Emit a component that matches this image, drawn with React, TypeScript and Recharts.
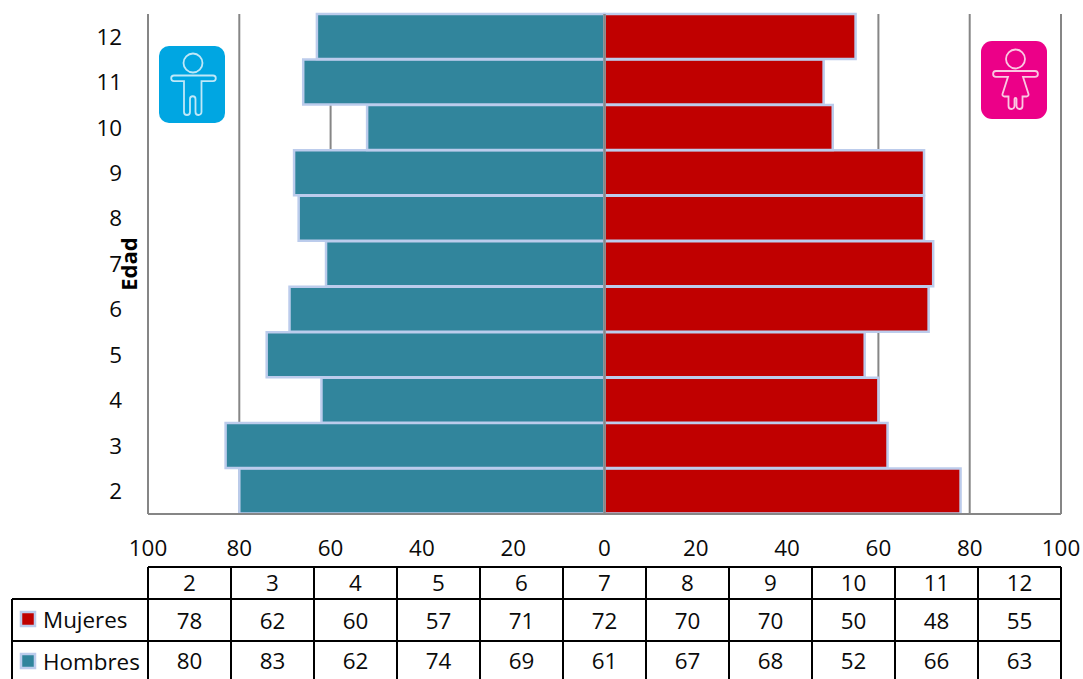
import React from 'react';
import { BarChart, Bar, XAxis, YAxis, CartesianGrid, ReferenceLine } from 'recharts';

// Ages run from 2 to 12; counts per age for each sex.
const edades = [2, 3, 4, 5, 6, 7, 8, 9, 10, 11, 12];
const mujeres = [78, 62, 60, 57, 71, 72, 70, 70, 50, 48, 55];
const hombres = [80, 83, 62, 74, 69, 61, 67, 68, 52, 66, 63];
const escala = [-100, -80, -60, -40, -20, 0, 20, 40, 60, 80, 100];

const filas = edades.map((edad, i) => ({
  edad: String(edad),
  Mujeres: mujeres[i],
  Hombres: -hombres[i],
}));

const FUENTE = '"Open Sans", sans-serif';
const TAM = 22.4;
const TINTA = '#0A0A0A';
const GRIS = '#868686';
const BORDE = '#BCCCEC';
const ROJO = '#C00000';
const AZUL = '#31859C';

const W = 1083;
const H = 679;
const X0 = 148;
const X1 = 1061;
const ANCHO_COL = (X1 - X0) / edades.length;
const Y_FILAS = [567, 599, 641, 690];

// Data table under the pyramid, with a colour key for each series.
function TablaDatos() {
  const centro = (a: number, b: number) => (a + b) / 2;
  const texto = { fontFamily: FUENTE, fontSize: TAM, fill: TINTA };
  return (
    <g>
      {Y_FILAS.map((y, i) => (
        <line key={y} x1={i === 0 ? X0 : 12} x2={X1} y1={y} y2={y} stroke="#000" strokeWidth={2} />
      ))}
      <line x1={12} x2={12} y1={599} y2={690} stroke="#000" strokeWidth={2} />
      {edades.map((_, i) => (
        <line key={i} x1={X0 + i * ANCHO_COL} x2={X0 + i * ANCHO_COL} y1={567} y2={690} stroke="#000" strokeWidth={2} />
      ))}
      <line x1={X1} x2={X1} y1={567} y2={690} stroke="#000" strokeWidth={2} />
      {edades.map((edad, i) => {
        const cx = X0 + (i + 0.5) * ANCHO_COL;
        return (
          <g key={edad} {...texto} textAnchor="middle">
            <text x={cx} y={centro(567, 599) + 8}>{edad}</text>
            <text x={cx} y={centro(599, 641) + 9}>{mujeres[i]}</text>
            <text x={cx} y={centro(641, 679) + 9}>{hombres[i]}</text>
          </g>
        );
      })}
      <rect x={21} y={612} width={14} height={14} fill={ROJO} stroke={BORDE} strokeWidth={2.5} />
      <text x={43} y={628} {...texto}>Mujeres</text>
      <rect x={21} y={654} width={14} height={14} fill={AZUL} stroke={BORDE} strokeWidth={2.5} />
      <text x={43} y={670} {...texto}>Hombres</text>
    </g>
  );
}

// Pictograms for each side of the pyramid.
function Iconos() {
  const trazo = { fill: 'none', stroke: '#BFE8F8', strokeWidth: 1.8 };
  return (
    <g>
      <rect x={159} y={46} width={66} height={77} rx={10} fill="#00A6E2" />
      <circle cx={193} cy={63} r={9.5} {...trazo} />
      <path
        d="M174 75.5 H213 a2.8 2.8 0 0 1 0 5.6 H201.5 V112 a3 3 0 0 1 -6 0 V99 a2.75 2.75 0 0 0 -5.5 0 V112 a3 3 0 0 1 -6 0 V81.1 H174 a2.8 2.8 0 0 1 0 -5.6 Z"
        {...trazo}
      />
      <rect x={981} y={41} width={66} height={78} rx={11} fill="#EC0088" />
      <circle cx={1015.5} cy={59} r={9.5} {...trazo} stroke="#FAC8E2" />
      <path
        d="M996 71 H1035 a2.9 2.9 0 0 1 0 5.8 H1023 L1028.5 94 a2 2 0 0 1 -2 2.5 H1022.5 V106 a3 3 0 0 1 -6 0 V99 a1 1 0 0 0 -2 0 V106 a3 3 0 0 1 -6 0 V96.5 H1004.5 a2 2 0 0 1 -2 -2.5 L1008 76.8 H996 a2.9 2.9 0 0 1 0 -5.8 Z"
        {...trazo}
        stroke="#FAC8E2"
      />
    </g>
  );
}

export default function App() {
  return (
    <div style={{ position: 'fixed', left: 0, top: 0, width: W, height: H, overflow: 'hidden', background: '#fff' }}>
      <BarChart
        width={W}
        height={H}
        data={filas}
        layout="vertical"
        stackOffset="sign"
        barCategoryGap={0}
        margin={{ top: 14, right: W - X1, bottom: 125, left: 88 }}
      >
        <CartesianGrid horizontal={false} stroke={GRIS} strokeWidth={2} />
        <XAxis
          type="number"
          domain={[-100, 100]}
          ticks={escala}
          interval={0}
          height={40}
          tickLine={false}
          tickSize={0}
          tickMargin={26}
          axisLine={{ stroke: GRIS, strokeWidth: 2 }}
          tickFormatter={(v: number) => String(Math.abs(v))}
          tick={{ fontFamily: FUENTE, fontSize: TAM, fill: TINTA }}
        />
        <YAxis
          type="category"
          dataKey="edad"
          reversed
          width={60}
          interval={0}
          tickLine={false}
          tickSize={0}
          tickMargin={26}
          axisLine={false}
          tick={{ fontFamily: FUENTE, fontSize: TAM, fill: TINTA }}
          label={{
            value: 'Edad',
            angle: -90,
            position: 'center',
            dx: 11,
            style: { fontFamily: FUENTE, fontSize: 22, fontWeight: 700, fill: '#000' },
          }}
        />
        <Bar dataKey="Hombres" stackId="piramide" fill={AZUL} stroke={BORDE} strokeWidth={2.5} isAnimationActive={false} />
        <Bar dataKey="Mujeres" stackId="piramide" fill={ROJO} stroke={BORDE} strokeWidth={2.5} isAnimationActive={false} />
        <ReferenceLine x={0} stroke={GRIS} strokeWidth={2.5} />
      </BarChart>
      <svg width={W} height={H} style={{ position: 'absolute', left: 0, top: 0, pointerEvents: 'none' }}>
        <Iconos />
        <TablaDatos />
      </svg>
    </div>
  );
}
